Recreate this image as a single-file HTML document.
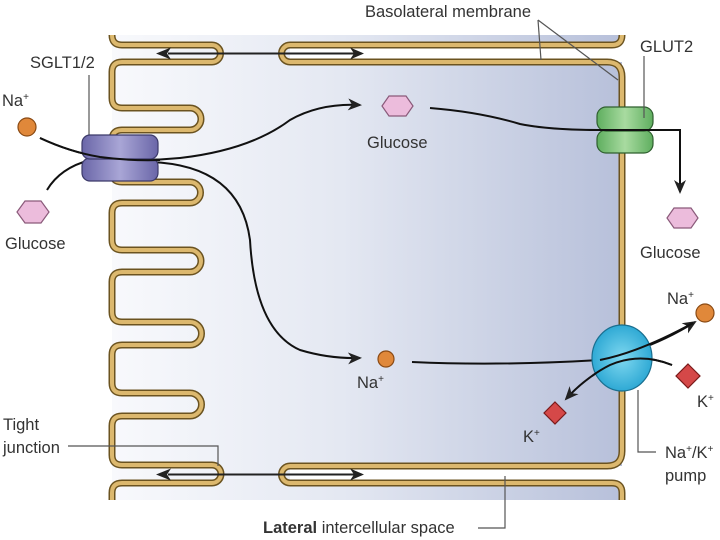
<!DOCTYPE html>
<html><head><meta charset="utf-8"><style>
html,body{margin:0;padding:0;background:#fff;}
svg{display:block;}
text{font-family:"Liberation Sans",sans-serif;fill:#333;font-size:16.5px;}
</style></head><body>
<svg width="720" height="540" viewBox="0 0 720 540" xmlns="http://www.w3.org/2000/svg">
<defs>
<linearGradient id="bg" x1="0" x2="1" y1="0" y2="0">
<stop offset="0" stop-color="#f8f9fc"/><stop offset="0.45" stop-color="#e4e8f2"/><stop offset="1" stop-color="#b7c0da"/>
</linearGradient>
<linearGradient id="pur" x1="0" x2="1"><stop offset="0" stop-color="#6a66a8"/><stop offset="0.5" stop-color="#a9a6d6"/><stop offset="1" stop-color="#6a66a8"/></linearGradient>
<linearGradient id="grn" x1="0" x2="1"><stop offset="0" stop-color="#5fae5f"/><stop offset="0.5" stop-color="#a8dba0"/><stop offset="1" stop-color="#5fae5f"/></linearGradient>
<radialGradient id="blu" cx="0.5" cy="0.5" r="0.6"><stop offset="0" stop-color="#7fd8f0"/><stop offset="1" stop-color="#1fa0cf"/></radialGradient>
<marker id="ah" markerWidth="14" markerHeight="12" refX="12" refY="6" orient="auto" markerUnits="userSpaceOnUse"><path d="M0,0 L14,6 L0,12 L4,6 Z" fill="#222"/></marker>
</defs>
<rect x="112" y="35" width="510" height="465" fill="url(#bg)"/>
<rect x="290" y="45" width="332" height="17" fill="#fff"/>
<rect x="290" y="466" width="332" height="17" fill="#fff"/>
<g fill="none" stroke-linejoin="round">
<path d="M112,35 Q112,45 122,45 L212,45 A8.5,8.5 0 0 1 212,62 L122,62 Q112,62 112,72 L112,98 Q112,108 122,108 L190,108 A11,11 0 0 1 190,130 L122,130 Q112,130 112,140 L112,172 Q112,182 122,182 L190,182 A10.5,10.5 0 0 1 190,203 L122,203 Q112,203 112,213 L112,240 Q112,250 122,250 L190,250 A11,11 0 0 1 190,272 L122,272 Q112,272 112,282 L112,312 Q112,322 122,322 L190,322 A11.5,11.5 0 0 1 190,345 L122,345 Q112,345 112,355 L112,383 Q112,393 122,393 L190,393 A11.5,11.5 0 0 1 190,416 L122,416 Q112,416 112,426 L112,455 Q112,465 122,465 L212,465 A9,9 0 0 1 212,483 L122,483 Q112,483 112,493 L112,500" stroke="#6b5320" stroke-width="7"/>
<path d="M112,35 Q112,45 122,45 L212,45 A8.5,8.5 0 0 1 212,62 L122,62 Q112,62 112,72 L112,98 Q112,108 122,108 L190,108 A11,11 0 0 1 190,130 L122,130 Q112,130 112,140 L112,172 Q112,182 122,182 L190,182 A10.5,10.5 0 0 1 190,203 L122,203 Q112,203 112,213 L112,240 Q112,250 122,250 L190,250 A11,11 0 0 1 190,272 L122,272 Q112,272 112,282 L112,312 Q112,322 122,322 L190,322 A11.5,11.5 0 0 1 190,345 L122,345 Q112,345 112,355 L112,383 Q112,393 122,393 L190,393 A11.5,11.5 0 0 1 190,416 L122,416 Q112,416 112,426 L112,455 Q112,465 122,465 L212,465 A9,9 0 0 1 212,483 L122,483 Q112,483 112,493 L112,500" stroke="#dcb86e" stroke-width="4"/>
<path d="M622,35 Q622,45 612,45 L290,45 A8.5,8.5 0 0 0 290,62 L607,62 Q622,62 622,77 L622,451 Q622,466 607,466 L290,466 A8.5,8.5 0 0 0 290,483 L612,483 Q622,483 622,493 L622,500" stroke="#6b5320" stroke-width="7"/>
<path d="M622,35 Q622,45 612,45 L290,45 A8.5,8.5 0 0 0 290,62 L607,62 Q622,62 622,77 L622,451 Q622,466 607,466 L290,466 A8.5,8.5 0 0 0 290,483 L612,483 Q622,483 622,493 L622,500" stroke="#dcb86e" stroke-width="4"/>
</g>
<g stroke="#222" stroke-width="2" fill="none">
<line x1="168" y1="53.5" x2="362" y2="53.5" marker-end="url(#ah)"/>
<line x1="168" y1="474.5" x2="362" y2="474.5" marker-end="url(#ah)"/>
</g>
<path d="M156,53.5 L171,47.5 L167,53.5 L171,59.5 Z" fill="#222"/>
<path d="M156,474.5 L171,468.5 L167,474.5 L171,480.5 Z" fill="#222"/>
<g stroke="#555" stroke-width="1.2" fill="none">
<line x1="89" y1="75" x2="89" y2="137"/>
<line x1="538" y1="20" x2="541" y2="60"/>
<line x1="538" y1="20" x2="618" y2="80"/>
<polyline points="68,446 218,446 218,466"/>
<polyline points="478,528 505,528 505,476"/>
<polyline points="638,390 638,452 656,452"/>
</g>
<g stroke="#111" stroke-width="2" fill="none">
<path d="M40,138 Q70,152 100,157 Q140,162 180,158 Q250,150 290,120 Q320,103 360,105" marker-end="url(#ah)"/>
<path d="M47,190 Q60,168 90,160"/>
<path d="M150,162 Q240,165 250,240 Q255,330 300,350 Q330,359 360,358" marker-end="url(#ah)"/>
<path d="M430,108 Q480,112 520,124 Q550,130 600,130 L680,130 L680,192" marker-end="url(#ah)"/>
<path d="M412,362 Q500,366 600,360 Q650,350 695,322" marker-end="url(#ah)"/>
<path d="M672,365 Q640,352 610,365 Q585,378 566,399" marker-end="url(#ah)"/>
</g>
<g stroke="#3c3a6a" stroke-width="1.2" fill="url(#pur)">
<rect x="82" y="158" width="76" height="23" rx="8"/>
<rect x="82" y="135" width="76" height="24" rx="8"/>
</g>
<path d="M40,138 Q70,152 100,157 Q130,161 160,160" stroke="#111" stroke-width="2" fill="none"/>
<g stroke="#2f5f2f" stroke-width="1.2" fill="url(#grn)">
<rect x="597" y="130" width="56" height="23" rx="9"/>
<rect x="597" y="107" width="56" height="24" rx="9"/>
</g>
<line x1="597" y1="130" x2="680" y2="130" stroke="#111" stroke-width="2"/>
<line x1="644" y1="56" x2="644" y2="118" stroke="#555" stroke-width="1.2"/>
<ellipse cx="622" cy="358" rx="30" ry="33" fill="url(#blu)" stroke="#1a6f90" stroke-width="1.2"/>
<path d="M600,360 Q640,352 693,323" stroke="#111" stroke-width="2" fill="none"/>
<path d="M672,365 Q640,352 610,365 Q600,370 592,376" stroke="#111" stroke-width="2" fill="none"/>
<g fill="#e0883a" stroke="#8a4a14" stroke-width="1.2">
<circle cx="27" cy="127" r="9"/><circle cx="386" cy="359" r="8"/><circle cx="705" cy="313" r="9"/>
</g>
<g fill="#ecbcdc" stroke="#8a5a7a" stroke-width="1.2">
<polygon points="17,212 25,201 41,201 49,212 41,223 25,223"/>
<polygon points="382,106 389,96 406,96 413,106 406,116 389,116"/>
<polygon points="667,218 674,208 691,208 698,218 691,228 674,228"/>
</g>
<g fill="#d54848" stroke="#7a1a1a" stroke-width="1.2">
<polygon points="688,364 700,376 688,388 676,376"/>
<polygon points="555,402 566,413 555,424 544,413"/>
</g>
<text x="2" y="106">Na<tspan font-size="10" dy="-6">+</tspan></text>
<text x="5" y="249">Glucose</text>
<text x="30" y="68">SGLT1/2</text>
<text x="367" y="148">Glucose</text>
<text x="365" y="17">Basolateral membrane</text>
<text x="640" y="52">GLUT2</text>
<text x="640" y="258">Glucose</text>
<text x="667" y="304">Na<tspan font-size="10" dy="-6">+</tspan></text>
<text x="357" y="388">Na<tspan font-size="10" dy="-6">+</tspan></text>
<text x="697" y="407">K<tspan font-size="10" dy="-6">+</tspan></text>
<text x="523" y="442">K<tspan font-size="10" dy="-6">+</tspan></text>
<text x="665" y="458">Na<tspan font-size="10" dy="-6">+</tspan><tspan dy="6">/K</tspan><tspan font-size="10" dy="-6">+</tspan></text>
<text x="665" y="481">pump</text>
<text x="3" y="430">Tight</text>
<text x="3" y="453">junction</text>
<text x="263" y="533"><tspan font-weight="bold">Lateral</tspan> intercellular space</text>
</svg>
</body></html>
